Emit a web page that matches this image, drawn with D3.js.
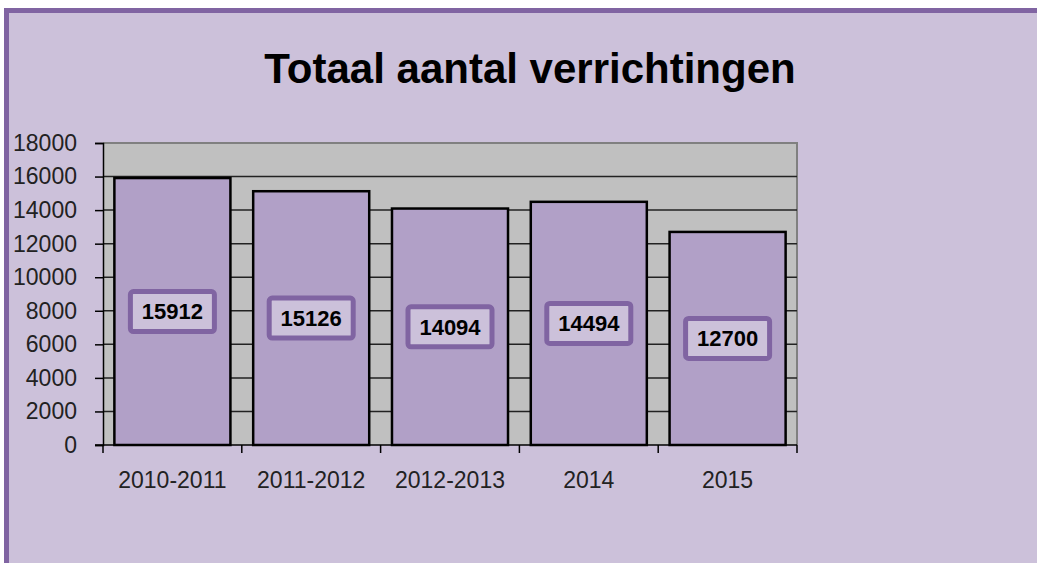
<!DOCTYPE html>
<html>
<head>
<meta charset="utf-8">
<script src="https://cdn.jsdelivr.net/npm/d3@7"></script>
<style>
  body { margin: 0; background: #fff; }
  svg { display: block; }
  text { font-family: "Liberation Sans", Arial, sans-serif; }
</style>
</head>
<body>
<div id="chart"></div>
<script>
// Data
const categories = ["2010-2011", "2011-2012", "2012-2013", "2014", "2015"];
const values = [15912, 15126, 14094, 14494, 12700];
const yTicks = [0, 2000, 4000, 6000, 8000, 10000, 12000, 14000, 16000, 18000];
const title = "Totaal aantal verrichtingen";

const width = 1037;
const height = 563;

// Plot area
const plot = { left: 103, right: 797, top: 143, bottom: 445 };

const svg = d3.select("#chart")
    .append("svg")
    .attr("width", width)
    .attr("height", height);

// Purple frame, clipped on the right and bottom like the original
svg.append("rect")
    .attr("x", 6.5)
    .attr("y", 10.5)
    .attr("width", width + 40)
    .attr("height", height + 40)
    .attr("fill", "#CCC1DA")
    .attr("stroke", "#8064A2")
    .attr("stroke-width", 5);

// Title
svg.append("text")
    .attr("x", 530)
    .attr("y", 83)
    .attr("text-anchor", "middle")
    .style("font-size", "42px")
    .style("font-weight", "bold")
    .attr("fill", "#000")
    .text(title);

// Scales
const x = d3.scaleBand()
    .domain(categories)
    .range([plot.left, plot.right])
    .paddingInner(0.164)
    .paddingOuter(0.082);

const y = d3.scaleLinear()
    .domain([0, 18000])
    .range([plot.bottom, plot.top]);

// Plot background
svg.append("rect")
    .attr("x", plot.left)
    .attr("y", plot.top)
    .attr("width", plot.right - plot.left)
    .attr("height", plot.bottom - plot.top)
    .attr("fill", "#C0C0C0");

// Plot border top/right (grey)
svg.append("path")
    .attr("d", `M${plot.left},${plot.top}H${plot.right}V${plot.bottom}`)
    .attr("fill", "none")
    .attr("stroke", "#808080")
    .attr("stroke-width", 2);

// Gridlines
svg.append("g")
    .selectAll("line")
    .data(yTicks.filter(d => d > 0 && d < 18000))
    .join("line")
    .attr("x1", plot.left)
    .attr("x2", plot.right)
    .attr("y1", d => y(d))
    .attr("y2", d => y(d))
    .attr("stroke", "#222")
    .attr("stroke-width", 1.5);

// Bars
svg.append("g")
    .selectAll("rect")
    .data(values)
    .join("rect")
    .attr("x", (d, i) => x(categories[i]))
    .attr("y", d => y(d))
    .attr("width", x.bandwidth())
    .attr("height", d => y(0) - y(d))
    .attr("fill", "#B1A0C7")
    .attr("stroke", "#000")
    .attr("stroke-width", 2.5);

// Y axis
const yAxis = svg.append("g")
    .attr("transform", `translate(${plot.left},0)`)
    .call(d3.axisLeft(y).tickValues(yTicks).tickSize(8).tickPadding(18).tickFormat(d3.format("d")));
yAxis.select(".domain").attr("stroke", "#000").attr("stroke-width", 1.5);
yAxis.selectAll(".tick line").attr("stroke", "#000").attr("stroke-width", 1.5);
yAxis.selectAll(".tick text")
    .style("font-size", "23px")
    .style("font-family", "'Liberation Sans', Arial, sans-serif")
    .attr("fill", "#222");

// X axis: ticks at category boundaries
const xAxis = svg.append("g");
const bounds = categories.map(c => x(c) - x.step() * x.paddingOuter()).concat([plot.right]);
xAxis.append("line")
    .attr("x1", plot.left - 8)
    .attr("x2", plot.right)
    .attr("y1", plot.bottom)
    .attr("y2", plot.bottom)
    .attr("stroke", "#000")
    .attr("stroke-width", 1.5);
xAxis.selectAll("line.bt")
    .data(bounds)
    .join("line")
    .attr("class", "bt")
    .attr("x1", d => d)
    .attr("x2", d => d)
    .attr("y1", plot.bottom)
    .attr("y2", plot.bottom + 8)
    .attr("stroke", "#000")
    .attr("stroke-width", 1.5);
xAxis.selectAll("text")
    .data(categories)
    .join("text")
    .attr("x", d => x(d) + x.bandwidth() / 2)
    .attr("y", 488)
    .attr("text-anchor", "middle")
    .style("font-size", "23px")
    .attr("fill", "#222")
    .text(d => d);

// Value labels in boxes, centred in each bar
const labels = svg.append("g")
    .selectAll("g")
    .data(values)
    .join("g")
    .attr("transform", (d, i) => `translate(${x(categories[i]) + x.bandwidth() / 2},${(y(d) + y(0)) / 2})`);

labels.append("rect")
    .attr("x", -42)
    .attr("y", -20)
    .attr("width", 84)
    .attr("height", 40)
    .attr("rx", 3)
    .attr("fill", "#CCC1DA")
    .attr("stroke", "#8064A2")
    .attr("stroke-width", 5);

labels.append("text")
    .attr("text-anchor", "middle")
    .attr("dy", "0.36em")
    .style("font-size", "22px")
    .style("font-weight", "bold")
    .attr("fill", "#000")
    .text(d => d);
</script>
</body>
</html>
